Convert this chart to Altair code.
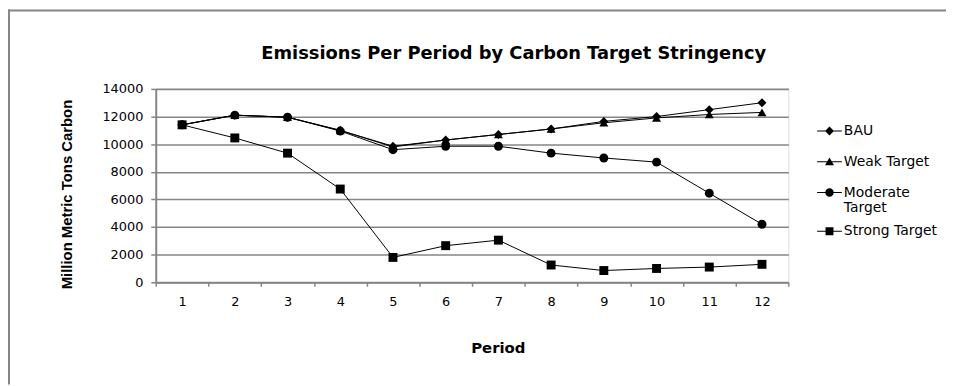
import altair as alt
import pandas as pd

periods = list(range(1, 13))
series_names = ["BAU", "Weak Target", "Moderate Target", "Strong Target"]
bau = [11400, 12100, 11950, 11000, 9850, 10300, 10700, 11100, 11650, 12000, 12500, 13000]
weak = [11400, 12100, 11950, 11000, 9800, 10300, 10700, 11100, 11550, 11900, 12150, 12300]
moderate = [11400, 12100, 11950, 10950, 9600, 9850, 9850, 9350, 9000, 8700, 6450, 4200]
strong = [11400, 10450, 9350, 6750, 1800, 2650, 3050, 1250, 850, 1000, 1100, 1300]
y_ticks = [0, 2000, 4000, 6000, 8000, 10000, 12000, 14000]

rows = []
for name, vals in zip(series_names, [bau, weak, moderate, strong]):
    for p, v in zip(periods, vals):
        rows.append({"Period": p, "value": v, "series": name})
df = pd.DataFrame(rows)

GRAY = "#868686"
W, H = 638, 195

x_enc = alt.X(
    "Period:O",
    scale=alt.Scale(type="band", paddingInner=0, paddingOuter=0),
    bandPosition=0.5,
    axis=alt.Axis(
        title="Period", labelAngle=0, tickBand="extent", tickSize=4,
        labelPadding=9, labelFont="DejaVu Sans", labelFontSize=13, labelColor="black",
        titleFont="DejaVu Sans", titleFontSize=15, titleFontWeight="bold",
        titleColor="black", titleX=345, titleY=66, titleBaseline="middle",
        titleAlign="center", domainColor=GRAY, domainWidth=2, tickColor=GRAY,
        tickWidth=1.5, grid=False,
    ),
)
y_enc = alt.Y(
    "value:Q",
    scale=alt.Scale(domain=[0, 14000], nice=False),
    axis=alt.Axis(
        title="Million Metric Tons Carbon", values=y_ticks, format="d",
        tickSize=5, labelPadding=8, labelFont="DejaVu Sans", labelFontSize=13,
        labelColor="black", titleFont="Liberation Sans", titleFontSize=15,
        titleFontWeight="bold", titleColor="black", titleX=-90, titleY=106,
        titleAngle=270, titleBaseline="middle", titleAlign="center",
        domainColor=GRAY, domainWidth=2, tickColor=GRAY, tickWidth=1.5,
        grid=True, gridColor=GRAY, gridWidth=1.6,
    ),
)

base = alt.Chart(df)

lines = base.mark_line(color="black", strokeWidth=1).encode(
    x=x_enc, y=y_enc, detail="series:N"
)

points = base.mark_point(filled=True, color="black", opacity=1).encode(
    x=x_enc, y=y_enc,
    shape=alt.Shape(
        "series:N",
        scale=alt.Scale(domain=series_names,
                        range=["diamond", "triangle-up", "circle", "square"]),
        legend=None,
    ),
    size=alt.Size(
        "series:N",
        scale=alt.Scale(domain=series_names, range=[81, 81, 110, 81]),
        legend=None,
    ),
)

# line segment through the marker, plus an invisible zero-area spine that sets row height
BAR = "M0,-1.2L0,1.2M-1,-0.045L1,-0.045L1,0.045L-1,0.045Z"
leg_paths = [
    BAR + "M-0.36,0L0,-0.36L0.36,0L0,0.36Z",
    BAR + "M0,-0.34L0.36,0.28L-0.36,0.28Z",
    BAR + "M0.34,0A0.34,0.34 0 1,1 -0.34,0A0.34,0.34 0 1,1 0.34,0Z",
    BAR + "M-0.32,-0.32L0.32,-0.32L0.32,0.32L-0.32,0.32Z",
]

legend_layer = base.transform_filter("datum.value < -1").mark_point(
    filled=True, color="black", opacity=1
).encode(
    x=x_enc, y=y_enc,
    shape=alt.Shape(
        "series:N",
        scale=alt.Scale(domain=series_names, range=leg_paths),
        legend=alt.Legend(
            title=None, orient="none", legendX=667, legendY=30,
            symbolSize=625, symbolStrokeWidth=0,
            symbolFillColor="black", symbolOpacity=1,
            labelFont="DejaVu Sans", labelFontSize=14, labelColor="black",
            labelOffset=2, labelLimit=300, rowPadding=0, padding=0,
            gridAlign="each",
            labelExpr="datum.label == 'Moderate Target' ? ['Moderate', 'Target'] : datum.label",
        ),
    ),
)

frame_data = alt.Data(values=[{"k": 1}])
left_border = alt.Chart(frame_data).mark_rule(color=GRAY, strokeWidth=2).encode(
    x=alt.value(-148), y=alt.value(-80), y2=alt.value(298)
)
top_border = alt.Chart(frame_data).mark_rule(color=GRAY, strokeWidth=2).encode(
    y=alt.value(-79), x=alt.value(-149), x2=alt.value(797)
)

chart = alt.layer(lines, points, legend_layer, left_border, top_border).resolve_scale(
    shape="independent", size="independent"
).properties(
    width=W, height=H,
    title=alt.TitleParams(
        "Emissions Per Period by Carbon Target Stringency",
        font="DejaVu Sans", fontSize=18, fontWeight="bold", color="black",
        anchor="middle", frame="group", dx=42, dy=59,
    ),
    autosize=alt.AutoSizeParams(type="none"),
    padding={"left": 149, "top": 80, "right": 159, "bottom": 103},
).configure_view(stroke=GRAY, strokeWidth=1.5).configure(background="white")

chart.save("out.html", embed_options={"renderer": "svg", "actions": False})
